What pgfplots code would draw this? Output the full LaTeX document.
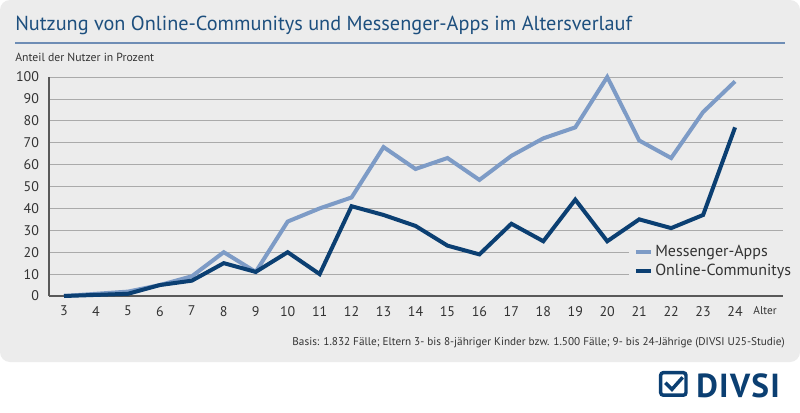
\documentclass[border=0pt]{standalone}
\usepackage{pgfplots}
\pgfplotsset{compat=1.18}
\usepackage{fontspec}
\setmainfont{PT Sans}
\definecolor{panel}{HTML}{ECECEC}
\definecolor{titleblue}{HTML}{1D4F7E}
\definecolor{rule}{HTML}{6E8DB5}
\definecolor{msg}{HTML}{7D9BC6}
\definecolor{onl}{HTML}{0B3F72}
\definecolor{txt}{HTML}{333333}
\definecolor{gridc}{HTML}{AAAAAA}
\begin{document}
\begin{tikzpicture}[x=1pt,y=1pt]
\useasboundingbox (0,0) rectangle (600,309);
\fill[white] (0,0) rectangle (600,309);
\fill[panel,rounded corners=7.5pt] (0,37.5) rectangle (600,309);
\node[anchor=base west,inner sep=0,text=titleblue,font=\fontsize{15.2}{17}\selectfont] at (11.25,286.5) {Nutzung von Online-Communitys und Messenger-Apps im Altersverlauf};
\draw[rule,line width=1.5pt] (11.25,276.75) -- (588.75,276.75);
\node[anchor=base west,inner sep=0,text=txt,font=\fontsize{8.8}{10}\selectfont] at (11.25,263.25) {Anteil der Nutzer in Prozent};
\begin{axis}[
  at={(36.75pt,87pt)}, anchor=south west,
  scale only axis, width=550.5pt, height=164.25pt,
  xmin=2.531, xmax=25.5, ymin=0, ymax=100,
  axis x line=bottom, axis y line=left,
  axis line style={-, draw=black!65, line width=0.8pt},
  xtick={3,...,24}, ytick={0,10,...,100},
  major tick length=0pt,
  ymajorgrids, grid style={gridc, line width=0.6pt},
  ticklabel style={text=txt, font=\fontsize{10.5}{12}\selectfont},
  /pgf/number format/assume math mode=true,
  yticklabel style={xshift=-4pt},
  xticklabel style={yshift=-4pt},
  clip=false,
  legend style={at={(axis cs:20.66,25.6)}, anchor=north west, fill=panel, draw=none,
    font=\fontsize{12}{13}\selectfont, text=txt, inner xsep=4pt, inner ysep=2pt,
    row sep=0pt},
  legend cell align=left,
  legend image code/.code={\draw[#1, line width=3pt] (0,0) -- (11pt,0);},
]
\addplot[msg, line width=3pt, line join=miter] coordinates {
(3,0) (4,1) (5,2) (6,5) (7,9) (8,20) (9,11) (10,34) (11,40) (12,45) (13,68) (14,58) (15,63) (16,53) (17,64) (18,72) (19,77) (20,100) (21,71) (22,63) (23,84) (24,98)};
\addlegendentry{Messenger-Apps}
\addplot[onl, line width=3pt, line join=miter] coordinates {
(3,0) (4,0.5) (5,1) (6,5) (7,7) (8,15) (9,11) (10,20) (11,10) (12,41) (13,37) (14,32) (15,23) (16,19) (17,33) (18,25) (19,44) (20,25) (21,35) (22,31) (23,37) (24,77)};
\addlegendentry{Online-Communitys}
\end{axis}
\node[anchor=base,inner sep=0,text=txt,font=\fontsize{8.5}{10}\selectfont] at (573.75,73.5) {Alter};
\node[anchor=base east,inner sep=0,text=txt,font=\fontsize{8.4}{10}\selectfont] at (588.75,50.25) {Basis: 1.832 Fälle; Eltern 3- bis 8-jähriger Kinder bzw. 1.500 Fälle; 9- bis 24-Jährige (DIVSI U25-Studie)};
% logo
\draw[onl, line width=2.6pt, rounded corners=2pt] (495.5,12.6) rectangle (514.5,29.5);
\draw[onl, line width=2.6pt] (499,22) -- (504,17) -- (512,26);
\node[anchor=base west,inner sep=0,text=onl,font=\fontsize{25}{28}\bfseries\addfontfeature{LetterSpace=4}\selectfont] at (522,11.2) {DIVSI};
\end{tikzpicture}
\end{document}
